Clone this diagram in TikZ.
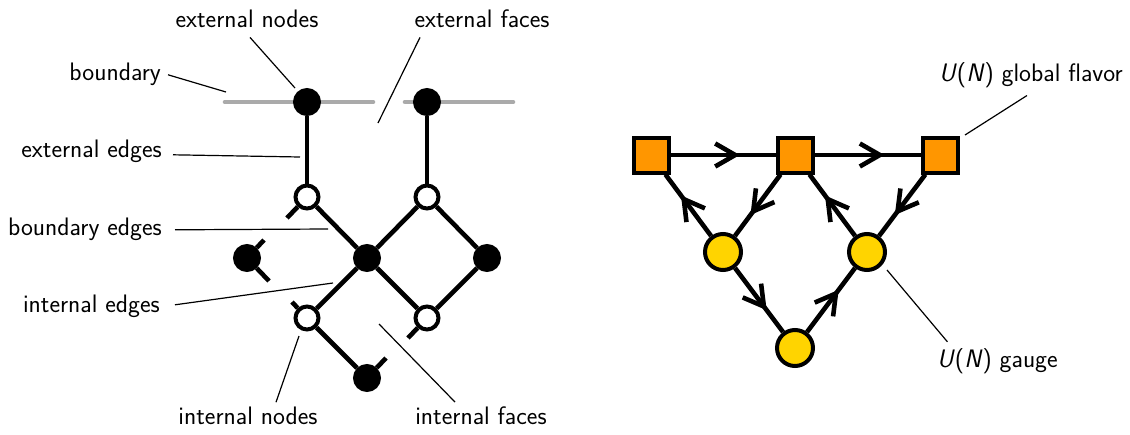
\documentclass[tikz,border=0pt]{standalone}
\usetikzlibrary{arrows.meta,decorations.markings}
\definecolor{flavorfill}{RGB}{255,150,0}
\definecolor{gaugefill}{RGB}{255,212,0}
\definecolor{bndgray}{RGB}{170,170,170}
\begin{document}
\begin{tikzpicture}[x=1pt,y=-1pt,
  font=\fontsize{25.3}{30}\selectfont\sffamily,
  edge/.style={line width=4.6pt},
  lead/.style={line width=1.2pt},
  bnd/.style={line width=4.6pt,bndgray,line cap=round},
  blk/.style={circle,fill=black,draw=black,line width=3pt,minimum size=25pt,inner sep=0pt},
  wht/.style={circle,fill=white,draw=black,line width=4pt,minimum size=23pt,inner sep=0pt},
  lbl/.style={inner sep=0pt},
  flv/.style={rectangle,fill=flavorfill,draw=black,line width=4pt,minimum size=35pt,inner sep=0pt},
  gge/.style={circle,fill=gaugefill,draw=black,line width=4pt,minimum size=36pt,inner sep=0pt},
  arr/.style={line width=4.6pt,postaction={decorate},
    decoration={markings,mark=at position 0.66 with {\arrow{Straight Barb[length=20pt,width=23pt]}}}},
]
\useasboundingbox (0,0) rectangle (1130,434);

% ---------- bipartite graph ----------
% boundary segments
\draw[bnd] (225,102) -- (373,102);
\draw[bnd] (405,102) -- (513,102);

% nodes
\node[blk] (e1) at (307,102) {};
\node[blk] (e2) at (427,102) {};
\node[wht] (w1) at (307,197) {};
\node[wht] (w2) at (427,197) {};
\node[blk] (bl) at (247,258) {};
\node[blk] (bc) at (367,258) {};
\node[blk] (br) at (487,258) {};
\node[wht] (w3) at (307,318) {};
\node[wht] (w4) at (427,318) {};
\node[blk] (bb) at (367,378) {};

% edges
\draw[edge] (e1) -- (w1);
\draw[edge] (e2) -- (w2);
\draw[edge] (w1) -- (bc);
\draw[edge] (w2) -- (bc);
\draw[edge] (w2) -- (br);
\draw[edge] (br) -- (w4);
\draw[edge] (bc) -- (w4);
\draw[edge] (bc) -- (w3);
\draw[edge] (w3) -- (bb);

% half edges
\coordinate (s1) at (287,218);
\coordinate (s2) at (264,240);
\coordinate (s3) at (269,281);
\coordinate (s4) at (292,302);
\coordinate (s5) at (408,338);
\coordinate (s6) at (386,358);
\draw[edge] (w1) -- (s1);
\draw[edge] (bl) -- (s2);
\draw[edge] (bl) -- (s3);
\draw[edge] (w3) -- (s4);
\draw[edge] (w4) -- (s5);
\draw[edge] (bb) -- (s6);

% labels
\node[lbl,anchor=base] (tExtNodes) at (247,27) {external nodes};
\node[lbl,anchor=base] (tExtFaces) at (482,27) {external faces};
\node[lbl,anchor=base east] (tBoundary) at (161,80) {boundary};
\node[lbl,anchor=base east] (tExtEdges) at (162,157) {external edges};
\node[lbl,anchor=base east] (tBndEdges) at (162,235) {boundary edges};
\node[lbl,anchor=base east] (tIntEdges) at (160,312) {internal edges};
\node[lbl,anchor=base] (tIntNodes) at (248,424) {internal nodes};
\node[lbl,anchor=base] (tIntFaces) at (481,424) {internal faces};

\coordinate (pExtNodes) at (295,88);
\coordinate (pExtFaces) at (378,123);
\coordinate (pBoundary) at (226,92);
\coordinate (pExtEdges) at (300,157);
\coordinate (pBndEdges) at (328,229);
\coordinate (pIntEdges) at (333,283);
\coordinate (pIntNodes) at (299,336);
\coordinate (pIntFaces) at (379,324);

\draw[lead] ([xshift=3pt,yshift=-10pt]tExtNodes.south) -- (pExtNodes);
\draw[lead] ([xshift=-62pt,yshift=-10pt]tExtFaces.south) -- (pExtFaces);
\draw[lead] ([xshift=7pt,yshift=-1pt]tBoundary.east) -- (pBoundary);
\draw[lead] ([xshift=11pt,yshift=-4pt]tExtEdges.east) -- (pExtEdges);
\draw[lead] ([xshift=13pt,yshift=-1pt]tBndEdges.east) -- (pBndEdges);
\draw[lead] ([xshift=15pt,yshift=1pt]tIntEdges.east) -- (pIntEdges);
\draw[lead] ([xshift=28pt,yshift=4pt]tIntNodes.north) -- (pIntNodes);
\draw[lead] ([xshift=-26pt,yshift=4pt]tIntFaces.north) -- (pIntFaces);

% ---------- quiver ----------
\node[flv] (f1) at (651,155) {};
\node[flv] (f2) at (795,155) {};
\node[flv] (f3) at (940,155) {};
\node[gge] (g1) at (723,252) {};
\node[gge] (g2) at (867,252) {};
\node[gge] (g3) at (795,348) {};

\draw[arr] (f1) -- (f2);
\draw[arr] (f2) -- (f3);
\draw[arr] (f2) -- (g1);
\draw[arr] (g1) -- (f1);
\draw[arr] (g1) -- (g3);
\draw[arr] (g3) -- (g2);
\draw[arr] (g2) -- (f2);
\draw[arr] (f3) -- (g2);

\node[lbl,anchor=base west] (tFlavor) at (939,81) {\textit{U}(\textit{N}) global flavor};
\node[lbl,anchor=base west] (tGauge) at (937,367) {\textit{U}(\textit{N}) gauge};
\coordinate (pFlavor) at (965,135);
\coordinate (pGauge) at (887,270);
\draw[lead] ([xshift=-4pt,yshift=-8pt]tFlavor.south) -- (pFlavor);
\draw[lead] ([xshift=-50pt,yshift=6pt]tGauge.north) -- (pGauge);
\end{tikzpicture}
\end{document}
